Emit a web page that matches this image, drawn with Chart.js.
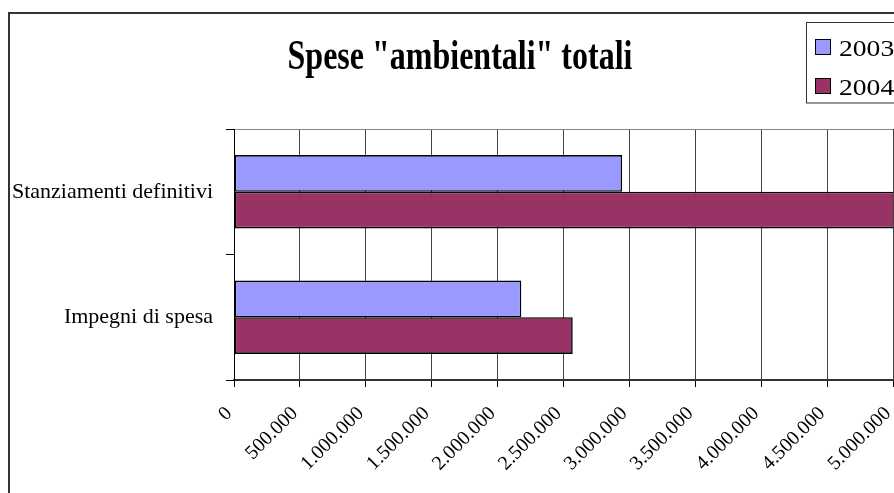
<!DOCTYPE html>
<html>
<head>
<meta charset="utf-8">
<script src="https://cdn.jsdelivr.net/npm/chart.js@4/dist/chart.umd.min.js"></script>
<style>
  html, body { margin: 0; padding: 0; background: #fff; }
  canvas { display: block; }
</style>
</head>
<body>
<canvas id="c" width="894" height="493"></canvas>
<script>
// Spese "ambientali" totali — 2003 vs 2004 (euro)
const categories = ['Stanziamenti definitivi', 'Impegni di spesa'];
const seriesNames = ['2003', '2004'];
const values2003 = [2945000, 2180000];
const values2004 = [5300000, 2570000];
const seriesColors = ['#9999FF', '#993366'];
const titleText = 'Spese "ambientali" totali';
const axisMax = 5000000;
const axisStep = 500000;

const SERIF = '"Liberation Serif", "Times New Roman", serif';

// thousands separated with dots, e.g. 1.500.000
function fmt(v) {
  const s = Math.round(v).toString();
  return s.replace(/\B(?=(\d{3})+(?!\d))/g, '.');
}

// white page, outer frame, title and legend box
const decorations = {
  id: 'decorations',
  beforeDraw(chart) {
    const ctx = chart.ctx;
    ctx.save();
    ctx.fillStyle = '#fff';
    ctx.fillRect(0, 0, chart.width, chart.height);
    ctx.restore();
  },
  afterDraw(chart) {
    const ctx = chart.ctx;
    ctx.save();
    // outer frame
    ctx.strokeStyle = '#333';
    ctx.lineWidth = 2;
    ctx.strokeRect(9, 13, 1000, 1000);

    // title, narrow bold serif
    ctx.fillStyle = '#000';
    ctx.font = 'bold 40px ' + SERIF;
    ctx.textAlign = 'center';
    ctx.textBaseline = 'alphabetic';
    ctx.save();
    ctx.translate(460, 69);
    ctx.scale(0.8, 1.03);
    ctx.fillText(titleText, 0, 0);
    ctx.restore();

    // legend
    ctx.strokeStyle = '#333';
    ctx.lineWidth = 1;
    ctx.strokeRect(806.5, 22.5, 200, 80.5);
    ctx.textAlign = 'left';
    chart.data.datasets.forEach((ds, i) => {
      const y = 39 + i * 39;
      ctx.fillStyle = ds.backgroundColor;
      ctx.fillRect(815, y, 16, 16);
      ctx.strokeStyle = '#000';
      ctx.strokeRect(815.5, y + 0.5, 15, 15);
      ctx.fillStyle = '#000';
      ctx.save();
      ctx.translate(839, y + 17);
      ctx.scale(1.2, 1);
      ctx.font = '23px ' + SERIF;
      ctx.fillText(ds.label, 0, 0);
      ctx.restore();
    });
    ctx.restore();
  }
};

new Chart(document.getElementById('c'), {
  type: 'bar',
  data: {
    labels: categories,
    datasets: [
      { label: seriesNames[0], data: values2003, backgroundColor: seriesColors[0] },
      { label: seriesNames[1], data: values2004, backgroundColor: seriesColors[1] }
    ]
  },
  options: {
    indexAxis: 'y',
    responsive: false,
    animation: false,
    devicePixelRatio: 1,
    layout: { padding: { top: 129, right: 1, bottom: 0, left: 0 } },
    datasets: {
      bar: {
        borderColor: '#000',
        borderWidth: 1.6,
        borderSkipped: false,
        barPercentage: 1,
        categoryPercentage: 0.585
      }
    },
    plugins: {
      legend: { display: false },
      title: { display: false },
      tooltip: { enabled: false }
    },
    scales: {
      x: {
        type: 'linear',
        min: 0,
        max: axisMax,
        afterFit(s) { s.height = 113; s.paddingLeft = 0; s.paddingRight = 0; },
        ticks: {
          stepSize: axisStep,
          autoSkip: false,
          minRotation: 45,
          maxRotation: 45,
          padding: 15,
          labelOffset: -5,
          color: '#000',
          font: { family: SERIF, size: 20 },
          callback: v => fmt(v)
        },
        grid: { color: '#444', lineWidth: 1, tickLength: 7, tickColor: '#000' },
        border: { color: '#333', width: 2 }
      },
      y: {
        type: 'category',
        afterFit(s) { s.width = 234; s.paddingTop = 0; s.paddingBottom = 0; },
        ticks: {
          padding: 13,
          color: '#000',
          font: { family: SERIF, size: 22 }
        },
        grid: {
          offset: true,
          tickLength: 8,
          tickColor: '#000',
          color: ctx => ctx.index === 0 ? '#888' : 'rgba(0,0,0,0)'
        },
        border: { color: '#000', width: 1 }
      }
    }
  },
  plugins: [decorations]
});
</script>
</body>
</html>
